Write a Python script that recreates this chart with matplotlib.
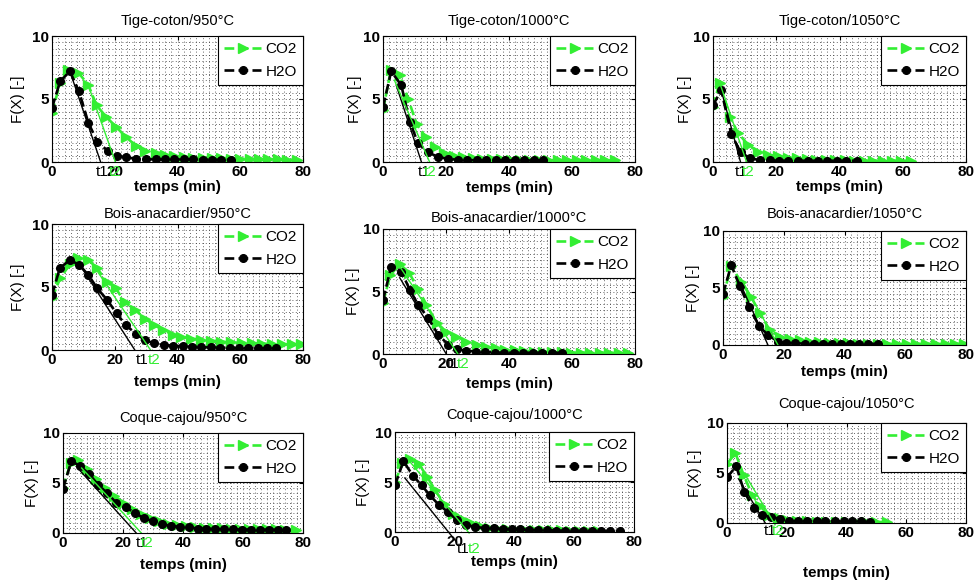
import matplotlib
matplotlib.use("Agg")
import matplotlib.pyplot as plt
from matplotlib.ticker import MultipleLocator

plt.rcParams['font.family'] = ['Liberation Sans', 'DejaVu Sans']

GREEN = '#33EE33'

# ---------------- data ----------------
# Tige-coton / 950
tc950_h2o_t = [0, 2.6, 5.7, 8.6, 11.6, 14.5, 17.7, 20.6, 23.6, 26.8, 29.9, 33.0, 36.0, 39.0, 42.0, 45.0, 48.0, 51.0, 54.0, 57.0]
tc950_h2o_y = [4.3, 6.4, 7.2, 5.6, 3.1, 1.6, 0.9, 0.5, 0.37, 0.25, 0.22, 0.2, 0.2, 0.2, 0.2, 0.2, 0.18, 0.18, 0.18, 0.18]
tc950_co2_t = [0, 2.6, 5.2, 8.4, 11.6, 14.2, 17.2, 20.4, 23.5, 26.7, 29.8, 33.0, 36.0, 39.0, 42.0, 45.0, 48.0, 51.0, 54.0, 57.0, 60.0, 63.0, 66.0, 69.0, 72.0, 75.0, 78.0]
tc950_co2_y = [3.9, 6.3, 7.3, 7.1, 6.1, 4.5, 3.6, 2.8, 2.0, 1.3, 0.9, 0.7, 0.55, 0.45, 0.4, 0.35, 0.32, 0.3, 0.28, 0.26, 0.25, 0.24, 0.22, 0.2, 0.2, 0.18, 0.18]
tc950_tan1 = ([5.7, 15.5], [7.2, 0])
tc950_tan2 = ([11.4, 20.2], [6.2, 0])
tc950_marks = (14.0, 18.0, -0.25)

# Tige-coton / 1000
tc1000_h2o_t = [0, 2.6, 5.8, 8.5, 11.1, 14.3, 17.5, 20.7, 23.7, 26.8, 29.8, 32.8, 35.8, 38.8, 41.8, 44.8, 47.8, 50.8]
tc1000_h2o_y = [4.35, 7.2, 6.1, 3.2, 1.5, 0.77, 0.4, 0.24, 0.18, 0.15, 0.13, 0.12, 0.12, 0.12, 0.12, 0.12, 0.12, 0.12]
tc1000_co2_t = [0, 2.5, 5.3, 8.0, 10.7, 13.5, 16.5, 19.5, 22.5, 25.5, 28.5, 31.5, 34.5, 37.5, 40.5, 43.5, 46.5, 49.5, 52.5, 55.5, 58.5, 61.5, 64.5, 67.5, 70.5, 73.5]
tc1000_co2_y = [4.1, 7.3, 6.9, 5.0, 3.0, 2.0, 1.2, 0.75, 0.5, 0.38, 0.3, 0.25, 0.22, 0.2, 0.18, 0.17, 0.16, 0.15, 0.15, 0.14, 0.14, 0.13, 0.13, 0.12, 0.12, 0.12]
tc1000_tan1 = ([4.2, 12.2], [6.1, 0])
tc1000_tan2 = ([3.6, 14.8], [6.5, 0])
tc1000_marks = (11.1, 12.9, -0.25)

# Tige-coton / 1050
tc1050_h2o_t = [0, 2.6, 5.8, 8.7, 11.6, 14.8, 17.9, 20.9, 23.8, 26.9, 30.1, 33.3, 35.9, 39.1, 42.2, 45.4]
tc1050_h2o_y = [4.5, 5.7, 2.2, 0.8, 0.3, 0.15, 0.12, 0.1, 0.1, 0.1, 0.1, 0.1, 0.1, 0.1, 0.1, 0.1]
tc1050_co2_t = [0, 2.1, 5.3, 7.9, 11.1, 14.3, 17.4, 20.6, 23.6, 26.6, 29.6, 32.6, 35.6, 38.6, 41.6, 44.6, 47.6, 50.6, 53.6, 56.6, 59.6, 62.6]
tc1050_co2_y = [4.4, 6.3, 3.6, 2.3, 1.37, 0.8, 0.58, 0.45, 0.35, 0.28, 0.22, 0.18, 0.15, 0.13, 0.12, 0.1, 0.1, 0.1, 0.1, 0.1, 0.1, 0.1]
tc1050_tan1 = ([2.6, 8.7], [5.7, 0])
tc1050_tan2 = ([2.1, 10.6], [6.3, 0])
tc1050_marks = (6.9, 9.0, -0.25)

# Bois-anacardier / 950
ba950_h2o_t = [0, 2.5, 5.7, 8.7, 11.6, 14.4, 17.6, 20.6, 23.5, 26.7, 29.6, 32.4, 35.6, 38.6, 41.6, 44.6, 47.6, 50.6, 53.6, 56.6, 59.6, 62.6, 65.6, 68.6, 71.5]
ba950_h2o_y = [4.37, 6.5, 7.15, 6.75, 5.95, 4.9, 3.97, 2.9, 1.98, 1.3, 0.8, 0.53, 0.4, 0.34, 0.3, 0.26, 0.22, 0.2, 0.18, 0.16, 0.15, 0.14, 0.13, 0.13, 0.13]
ba950_co2_t = [0, 2.6, 5.7, 8.4, 11.6, 14.4, 17.4, 20.3, 23.2, 26.4, 29.6, 32.4, 35.4, 38.6, 41.2, 44.4, 47.6, 50.8, 54.0, 57.2, 60.4, 63.6, 66.8, 70.0, 73.2, 76.4, 79.4]
ba950_co2_y = [4.1, 5.7, 6.8, 7.3, 7.15, 6.5, 5.4, 4.9, 3.8, 3.2, 2.5, 2.0, 1.6, 1.2, 1.05, 0.9, 0.8, 0.72, 0.66, 0.6, 0.56, 0.53, 0.5, 0.48, 0.46, 0.45, 0.44]
ba950_tan1 = ([8.5, 26.4], [6.9, 0])
ba950_tan2 = ([11.6, 31.4], [7.3, 0])
ba950_marks = (26.7, 30.6, -0.25)

# Bois-anacardier / 1000
ba1000_h2o_t = [0, 2.6, 5.8, 8.5, 11.1, 14.3, 17.5, 20.7, 23.5, 26.5, 29.5, 32.5, 35.5, 38.5, 41.5, 44.5, 47.5, 50.5, 53.5, 56.7]
ba1000_h2o_y = [4.3, 7.0, 6.6, 5.15, 3.95, 2.9, 1.55, 0.75, 0.4, 0.25, 0.2, 0.15, 0.12, 0.1, 0.1, 0.1, 0.1, 0.1, 0.1, 0.1]
ba1000_co2_t = [0, 2.3, 5.3, 8.3, 11.1, 13.8, 17.0, 20.1, 23.3, 26.5, 29.7, 32.8, 35.8, 38.8, 41.8, 44.8, 47.8, 50.8, 53.8, 56.8, 59.8, 62.8, 65.8, 68.8, 71.8, 74.8, 77.8]
ba1000_co2_y = [4.1, 6.3, 7.2, 6.5, 5.2, 3.95, 2.5, 1.8, 1.4, 1.0, 0.75, 0.6, 0.45, 0.35, 0.3, 0.25, 0.2, 0.18, 0.15, 0.13, 0.12, 0.1, 0.1, 0.1, 0.1, 0.08, 0.08]
ba1000_tan1 = ([5.3, 20.1], [6.1, 0])
ba1000_tan2 = ([5.3, 23.8], [7.0, 0])
ba1000_marks = (20.1, 23.5, -0.25)

# Bois-anacardier / 1050
ba1050_h2o_t = [0, 2.7, 5.5, 8.6, 11.9, 14.8, 18.1, 20.9, 23.6, 26.9, 29.8, 32.8, 35.8, 38.8, 41.8, 44.8, 47.8, 51.1]
ba1050_h2o_y = [4.46, 7.0, 5.2, 3.3, 1.66, 0.87, 0.3, 0.2, 0.15, 0.12, 0.12, 0.1, 0.1, 0.1, 0.1, 0.1, 0.1, 0.1]
ba1050_co2_t = [0, 2.7, 6.0, 9.3, 12.1, 15.4, 18.7, 22.0, 25.3, 28.5, 31.7, 34.9, 38.1, 41.3, 44.5, 47.7, 50.9, 54.1, 57.3, 60.5, 63.7, 66.9, 70.1, 73.3, 76.5, 79.3]
ba1050_co2_y = [4.2, 6.95, 5.5, 4.2, 2.8, 1.3, 0.73, 0.5, 0.4, 0.3, 0.25, 0.2, 0.18, 0.15, 0.13, 0.12, 0.1, 0.1, 0.1, 0.1, 0.1, 0.1, 0.1, 0.1, 0.1, 0.1]
ba1050_tan1 = ([5.5, 14.8], [5.5, 0])
ba1050_tan2 = ([6.0, 18.1], [5.8, 0])
ba1050_marks = None

# Coque-cajou / 950
cc950_h2o_t = [0, 2.8, 5.8, 8.7, 11.7, 14.7, 17.8, 20.9, 23.9, 26.9, 30.0, 33.0, 36.1, 38.9, 42.0, 45.0, 47.8, 50.8, 53.8, 56.8, 59.8, 62.8, 65.8, 68.8, 71.5, 74.4]
cc950_h2o_y = [4.43, 7.2, 6.67, 5.9, 4.83, 4.0, 3.0, 2.6, 2.0, 1.5, 1.17, 0.9, 0.67, 0.65, 0.57, 0.43, 0.43, 0.4, 0.38, 0.36, 0.35, 0.35, 0.34, 0.34, 0.33, 0.33]
cc950_co2_t = [0, 2.5, 5.0, 8.0, 11.0, 14.0, 17.0, 20.0, 23.0, 26.0, 29.0, 32.0, 35.0, 38.0, 41.0, 44.0, 47.0, 50.0, 53.0, 56.0, 59.0, 62.0, 65.0, 68.0, 71.0, 74.0, 77.8]
cc950_co2_y = [4.5, 7.0, 7.3, 6.4, 5.4, 4.5, 3.7, 3.0, 2.4, 1.9, 1.5, 1.2, 0.95, 0.8, 0.7, 0.62, 0.55, 0.5, 0.47, 0.44, 0.42, 0.4, 0.38, 0.37, 0.36, 0.35, 0.34]
cc950_tan1 = ([5.8, 24.4], [6.2, 0])
cc950_tan2 = ([6.2, 26.1], [6.5, 0])
cc950_marks = (24.2, 26.1, -0.3)

# Coque-cajou / 1000
cc1000_h2o_t = [0, 2.8, 6.1, 8.9, 11.7, 14.8, 17.8, 20.8, 23.9, 26.7, 30.1, 33.0, 36.0, 39.0, 42.0, 45.0, 48.0, 51.0, 54.0, 57.0, 60.0, 63.0, 66.0, 69.0, 72.0, 75.2]
cc1000_h2o_y = [4.67, 7.07, 5.6, 4.67, 3.67, 2.67, 2.0, 1.17, 0.73, 0.5, 0.4, 0.4, 0.33, 0.27, 0.27, 0.2, 0.2, 0.2, 0.13, 0.13, 0.13, 0.1, 0.1, 0.1, 0.1, 0.1]
cc1000_co2_t = [0, 2.5, 5.0, 8.0, 10.8, 13.4, 16.5, 19.5, 22.3, 25.5, 28.4, 31.5, 34.5, 37.5, 40.5, 43.5, 46.5, 49.5, 52.5, 55.5, 58.5, 61.5, 64.5, 67.9]
cc1000_co2_y = [5.0, 6.9, 7.3, 6.8, 5.5, 4.2, 2.8, 1.8, 1.3, 0.9, 0.6, 0.45, 0.35, 0.3, 0.25, 0.22, 0.2, 0.18, 0.17, 0.16, 0.15, 0.15, 0.15, 0.15]
cc1000_tan1 = ([3.3, 20.6], [5.4, -1.0])
cc1000_tan2 = ([4.8, 24.8], [7.1, -0.1])
cc1000_marks = (20.6, 24.5, -1.0)

# Coque-cajou / 1050
cc1050_h2o_t = [0, 3.1, 5.8, 8.9, 11.7, 14.7, 17.8, 20.6, 23.6, 26.7, 30.0, 32.9, 36.2, 39.0, 41.8, 44.8, 47.9]
cc1050_h2o_y = [4.57, 5.67, 3.1, 1.5, 0.83, 0.57, 0.43, 0.23, 0.17, 0.17, 0.17, 0.17, 0.17, 0.17, 0.17, 0.17, 0.1]
cc1050_co2_t = [0, 2.8, 5.6, 8.4, 11.1, 13.9, 17.3, 20.0, 23.4, 26.7, 30.0, 33.3, 36.6, 39.9, 43.2, 46.5, 49.8, 53.5]
cc1050_co2_y = [5.9, 7.0, 4.77, 2.83, 1.67, 0.83, 0.5, 0.33, 0.23, 0.17, 0.15, 0.13, 0.12, 0.1, 0.1, 0.1, 0.1, 0.1]
cc1050_tan1 = ([3.9, 12.8], [4.4, 0])
cc1050_tan2 = ([6.1, 16.1], [4.8, -0.17])
cc1050_marks = (12.2, 15.0, -0.1)

titles = ["Tige-coton/950°C", "Tige-coton/1000°C", "Tige-coton/1050°C",
          "Bois-anacardier/950°C", "Bois-anacardier/1000°C", "Bois-anacardier/1050°C",
          "Coque-cajou/950°C", "Coque-cajou/1000°C", "Coque-cajou/1050°C"]

panels = [
    (tc950_co2_t, tc950_co2_y, tc950_h2o_t, tc950_h2o_y, tc950_tan1, tc950_tan2, tc950_marks),
    (tc1000_co2_t, tc1000_co2_y, tc1000_h2o_t, tc1000_h2o_y, tc1000_tan1, tc1000_tan2, tc1000_marks),
    (tc1050_co2_t, tc1050_co2_y, tc1050_h2o_t, tc1050_h2o_y, tc1050_tan1, tc1050_tan2, tc1050_marks),
    (ba950_co2_t, ba950_co2_y, ba950_h2o_t, ba950_h2o_y, ba950_tan1, ba950_tan2, ba950_marks),
    (ba1000_co2_t, ba1000_co2_y, ba1000_h2o_t, ba1000_h2o_y, ba1000_tan1, ba1000_tan2, ba1000_marks),
    (ba1050_co2_t, ba1050_co2_y, ba1050_h2o_t, ba1050_h2o_y, ba1050_tan1, ba1050_tan2, ba1050_marks),
    (cc950_co2_t, cc950_co2_y, cc950_h2o_t, cc950_h2o_y, cc950_tan1, cc950_tan2, cc950_marks),
    (cc1000_co2_t, cc1000_co2_y, cc1000_h2o_t, cc1000_h2o_y, cc1000_tan1, cc1000_tan2, cc1000_marks),
    (cc1050_co2_t, cc1050_co2_y, cc1050_h2o_t, cc1050_h2o_y, cc1050_tan1, cc1050_tan2, cc1050_marks),
]

# ---------------- layout in pixels (MATLAB subplot positions) ----------------
W, H = 974, 581
# left, top, right, bottom, title centre y, xlabel centre y, ylabel centre x
layout = [
    (52, 36, 303, 162, 20, 187, 18),
    (383, 36, 635, 162, 20, 188, 355),
    (713, 36, 966, 162, 20, 187, 685),
    (52, 224, 303, 350, 213, 382, 18),
    (383, 229, 635, 354, 217, 384, 353),
    (723, 231, 966, 345, 213, 372, 693),
    (63, 433, 303, 533, 417, 565, 32),
    (395, 432, 634, 532, 414, 562, 363),
    (727, 423, 966, 523, 403, 573, 695),
]

fig = plt.figure(figsize=(W / 100, H / 100), dpi=100)

for (co2_t, co2_y, h2o_t, h2o_y, tan1, tan2, marks), title, lay in zip(panels, titles, layout):
    l, t, r, b, ty, xly, ylx = lay
    ax = fig.add_axes([l / W, 1 - b / H, (r - l) / W, (b - t) / H])

    ax.plot(co2_t, co2_y, '--', color=GREEN, lw=1.9, marker='>', ms=7,
            mfc=GREEN, mec=GREEN, label='CO2')
    ax.plot(h2o_t, h2o_y, '--', color='k', lw=1.9, marker='o', ms=5.5,
            mfc='k', mec='k', label='H2O')
    ax.plot(tan1[0], tan1[1], '-', color='k', lw=1.0, clip_on=False)
    ax.plot(tan2[0], tan2[1], '-', color=GREEN, lw=1.0, clip_on=False)

    if marks is not None:
        ax.text(marks[0], marks[2], 't1', color='k', fontsize=11, va='top', ha='left')
        ax.text(marks[1], marks[2], 't2', color=GREEN, fontsize=11, va='top', ha='left')

    ax.set_xlim(0, 80)
    ax.set_ylim(0, 10)
    ax.set_xticks([0, 20, 40, 60, 80])
    ax.set_yticks([0, 5, 10])
    ax.xaxis.set_minor_locator(MultipleLocator(2))
    ax.yaxis.set_minor_locator(MultipleLocator(0.5))
    ax.grid(which='both', linestyle=(0, (1, 3)), color='0.2', lw=0.6)
    ax.set_axisbelow(True)
    ax.tick_params(which='both', direction='in', top=True, right=True)
    ax.tick_params(which='major', length=3, labelsize=11, pad=2)
    ax.tick_params(which='minor', length=0)
    for lab in ax.get_xticklabels() + ax.get_yticklabels():
        lab.set_fontweight('bold')
    for sp in ax.spines.values():
        sp.set_linewidth(0.8)

    ax.set_title(title, fontsize=10.5, pad=max((t - ty - 5) * 0.72, 1))
    ax.set_xlabel('temps (min)', fontsize=11, fontweight='bold')
    ax.xaxis.set_label_coords(0.5, (b - xly) / (b - t))
    ax.xaxis.label.set_va('center')
    ax.set_ylabel('F(X) [-]', fontsize=11)
    ax.yaxis.set_label_coords((ylx - l) / (r - l), 0.5)
    ax.yaxis.label.set_va('center')

    leg = ax.legend(loc='upper right', borderaxespad=0, fancybox=False,
                    edgecolor='k', framealpha=1, fontsize=11, handlelength=2.4,
                    handletextpad=0.3, borderpad=0.4, labelspacing=0.55)
    leg.get_frame().set_linewidth(0.8)

fig.savefig('out.png', dpi=100)
